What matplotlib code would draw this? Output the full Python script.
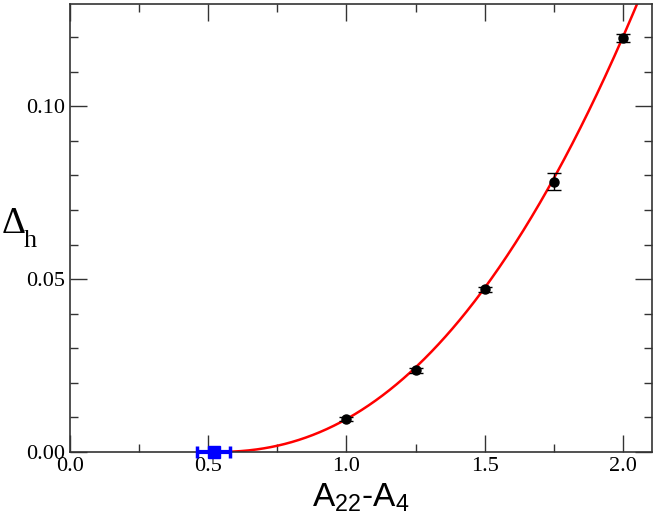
import numpy as np
import matplotlib.pyplot as plt
from matplotlib.ticker import MultipleLocator

plt.rcParams['mathtext.fontset'] = 'custom'
plt.rcParams['mathtext.rm'] = 'Liberation Sans'
plt.rcParams['mathtext.it'] = 'Liberation Sans:italic'

# measured points
x_pts = [1.0, 1.25, 1.5, 1.75, 2.0]
y_pts = [0.0095, 0.0236, 0.0471, 0.0782, 0.1198]
y_err = [0.0006, 0.0007, 0.0007, 0.0024, 0.0011]

# extrapolated critical point
x_crit = [0.52]
y_crit = [0.0]
x_crit_err = [0.06]

# fit  a*(x - x0)^b
fit_x0 = 0.52
fit_a = 0.0497
fit_b = 2.25

fig = plt.figure(figsize=(6.54, 5.25), dpi=100)
ax = fig.add_axes([0.1070, 0.139, 0.8900, 0.853])

xf = np.linspace(fit_x0, 2.2, 400)
ax.plot(xf, fit_a * (xf - fit_x0) ** fit_b, '-', color='red', lw=1.8, zorder=2)

ax.errorbar(x_pts, y_pts, yerr=y_err, fmt='o', color='black', ms=6.5,
            ecolor='black', elinewidth=1, capsize=5, capthick=1, zorder=3)

ax.errorbar(x_crit, y_crit, xerr=x_crit_err, fmt='s', color='#0000ff', ms=8,
            ecolor='#0000ff', elinewidth=3, capsize=4, capthick=2.5,
            zorder=4, clip_on=False)

ax.set_xlim(0, 2.105)
ax.set_ylim(0, 0.1295)

ax.xaxis.set_major_locator(MultipleLocator(0.5))
ax.xaxis.set_minor_locator(MultipleLocator(0.25))
ax.yaxis.set_major_locator(MultipleLocator(0.05))
ax.yaxis.set_minor_locator(MultipleLocator(0.01))
ax.xaxis.set_major_formatter(plt.FuncFormatter(lambda v, p: '%.1f' % v))
ax.yaxis.set_major_formatter(plt.FuncFormatter(lambda v, p: '%.2f' % v))

ax.tick_params(which='both', direction='in', top=True, right=True,
               color='#333333', width=1)
ax.tick_params(which='major', length=12, labelsize=16, pad=3.5)
ax.tick_params(which='minor', length=6)
for lab in ax.get_xticklabels() + ax.get_yticklabels():
    lab.set_family('Liberation Serif')
for s in ax.spines.values():
    s.set_color('#333333')
    s.set_linewidth(1.2)

ax.set_xlabel(r'A$_{22}$-A$_4$', fontsize=24, family='Liberation Sans', labelpad=4)

# y label: Delta with subscript h, serif
fig.text(2 / 654, 1 - 233 / 525, 'Δ', fontsize=27, family='Liberation Serif',
         ha='left', va='baseline')
fig.text(24 / 654, 1 - 247 / 525, 'h', fontsize=19, family='Liberation Serif',
         ha='left', va='baseline')

fig.savefig('out.png', dpi=100)
